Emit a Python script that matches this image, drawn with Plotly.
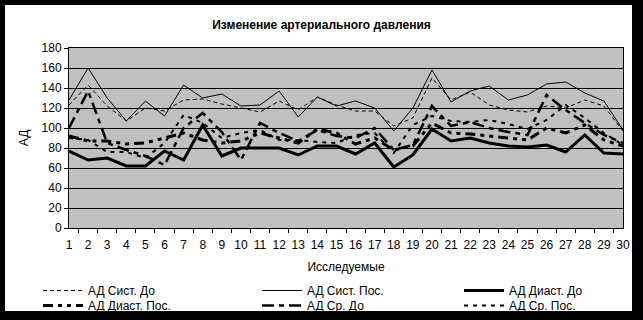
import plotly.graph_objects as go

subjects = [str(i) for i in range(1, 31)]

sist_do = [123, 143, 122, 107, 120, 117, 128, 129, 124, 120, 116, 127, 118, 131, 123,
           117, 117, 102, 110, 150, 128, 136, 123, 118, 116, 122, 120, 128, 122, 97]
sist_pos = [128, 160, 130, 107, 127, 112, 143, 130, 134, 122, 123, 137, 111, 131, 122,
            127, 120, 97, 120, 158, 126, 137, 142, 128, 133, 144, 146, 135, 127, 98]
diast_do = [77, 68, 70, 62, 62, 77, 68, 103, 72, 80, 80, 80, 73, 82, 82,
            74, 85, 61, 73, 99, 87, 90, 85, 82, 81, 83, 76, 93, 75, 74]
diast_pos = [92, 87, 87, 84, 85, 90, 95, 88, 85, 87, 95, 90, 85, 99, 95,
             84, 90, 78, 82, 105, 95, 94, 92, 90, 88, 100, 95, 103, 88, 82]
sr_do = [100, 137, 85, 78, 72, 63, 100, 115, 96, 68, 105, 95, 87, 98, 92,
         90, 100, 78, 83, 122, 102, 106, 100, 96, 93, 133, 118, 105, 93, 85]
sr_pos = [90, 88, 76, 76, 70, 85, 113, 105, 90, 95, 98, 88, 88, 86, 85,
          93, 95, 75, 103, 112, 107, 106, 108, 104, 99, 108, 123, 110, 95, 83]

y_ticks = list(range(0, 181, 20))

# name, values, width, dash
series = [
    ("АД Сист. До", sist_do, 1, "4px,3px"),
    ("АД Сист. Пос.", sist_pos, 1, "solid"),
    ("АД Диаст. До", diast_do, 3, "solid"),
    ("АД Диаст. Пос.", diast_pos, 3, "10px,5px,4px,5px,4px,5px"),
    ("АД Ср. До", sr_do, 2.5, "12px,5px,5px,5px"),
    ("АД Ср. Пос.", sr_pos, 2, "4px,5px"),
]

W, H = 643, 320
ml, mr, mt, mb = 69, 20, 48, 92
pw, ph = W - ml - mr, H - mt - mb


def px_x(p):
    return (p - ml) / pw


def px_y(p):
    return (H - mb - p) / ph


legend_cols = [38, 257, 459]
legend_rows = [276, 291]

fig = go.Figure()
legends = {}
for i, (name, vals, w, dash) in enumerate(series):
    key = "legend" if i == 0 else f"legend{i + 1}"
    fig.add_trace(go.Scatter(
        x=subjects, y=vals, name=name, mode="lines", legend=key,
        line=dict(color="black", width=w, dash=dash),
    ))
    legends[key] = dict(
        orientation="v", x=px_x(legend_cols[i % 3]), xanchor="left",
        y=px_y(legend_rows[i // 3]), yanchor="top",
        bgcolor="rgba(0,0,0,0)", font=dict(size=12), itemwidth=40,
    )

shapes = []
for (x0, y0, x1, y1) in [(0, 0, W, 5), (0, 0, 5, H), (632, 0, W, H), (0, 311, W, H)]:
    shapes.append(dict(type="rect", xref="paper", yref="paper",
                       x0=px_x(x0), x1=px_x(x1), y0=px_y(y1), y1=px_y(y0),
                       fillcolor="black", line=dict(width=0), layer="below"))

fig.update_layout(
    width=W, height=H,
    margin=dict(l=ml, r=mr, t=mt, b=mb, autoexpand=False),
    paper_bgcolor="white",
    plot_bgcolor="#C0C0C0",
    font=dict(family="Liberation Sans, Arial, sans-serif", size=12, color="black"),
    title=dict(text="<b>Изменение артериального давления</b>", x=0.5, xanchor="center",
               y=1 - 25 / H, yanchor="middle", font=dict(size=12)),
    xaxis=dict(
        type="category", tickson="boundaries", ticks="outside", ticklen=4,
        tickcolor="black", showgrid=False, showline=True, linecolor="black",
        linewidth=1, mirror=True, tickfont=dict(size=12), tickangle=0,
        ticklabelstandoff=6,
        title=dict(text="Исследуемые", font=dict(size=12), standoff=11),
    ),
    yaxis=dict(
        range=[0, 180], tickvals=y_ticks, ticks="outside", ticklen=4,
        tickcolor="black", showgrid=True, gridcolor="black", gridwidth=1,
        showline=True, linecolor="black", linewidth=1, mirror=True,
        zeroline=False, tickfont=dict(size=12),
        title=dict(text="АД", font=dict(size=12), standoff=10),
    ),
    shapes=shapes,
    showlegend=True,
    **legends,
)

fig.write_html("out.html")
